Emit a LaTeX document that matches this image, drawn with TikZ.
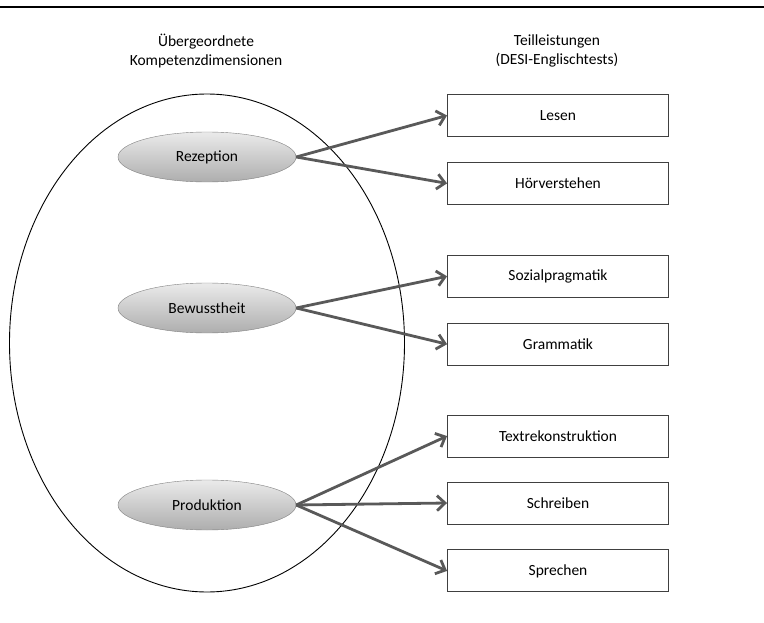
\documentclass[tikz,border=0pt]{standalone}
\usepackage{fontspec}
\setmainfont{Carlito}
\usetikzlibrary{arrows.meta,positioning,shapes.geometric}

\begin{document}
\begin{tikzpicture}[
    x=1pt, y=-1pt,
    font=\fontsize{15.5}{18.5}\selectfont,
    >={Straight Barb[length=8pt,width=15pt]},
    dimension/.style={
		ellipse,
		draw=black!50,
		top color=black!8,
		bottom color=black!32,
		minimum width=178pt,
		minimum height=50pt,
		inner sep=0pt
	},
	task/.style={
		rectangle,
		draw=black!75,
		line width=0.9pt,
		minimum width=221pt,
		minimum height=42pt,
		fill=white
	},
	header/.style={
		align=center
	},
	link/.style={
		->,
		draw=black!65,
		line width=2.8pt
	}
  ]

 \useasboundingbox (0,0) rectangle (764,623);
 \draw [line width=1.4pt] (0,7) -- (764,7);

 % // headers
 \node [header] (lefthead) at (206,51) {Übergeordnete\\Kompetenzdimensionen};
 \node [header] (righthead) at (557,51) {Teilleistungen\\(DESI-Englischtests)};

 % // the big ellipse
 \node [ellipse, draw, line width=0.9pt, minimum width=395pt, minimum height=498pt] (kompetenz) at (207,343) {};

 \node [dimension] (rezeption) at (207,157) {Rezeption};
 \node [dimension] (bewusstheit) at (207,308) {Bewusstheit};
 \node [dimension] (produktion) at (207,505) {Produktion};

 % // the tests
 \node [task] (lesen) at (558,115.5) {Lesen};
 \node [task, below=25pt of lesen] (hoeren) {Hörverstehen};
 \node [task, below=50pt of hoeren] (sozial) {Sozialpragmatik};
 \node [task, below=25pt of sozial] (grammatik) {Grammatik};
 \node [task, below=49pt of grammatik] (textrek) {Textrekonstruktion};
 \node [task, below=24pt of textrek] (schreiben) {Schreiben};
 \node [task, below=25pt of schreiben] (sprechen) {Sprechen};

 \draw [link] (rezeption.east) -- (lesen.west);
 \draw [link] (rezeption.east) -- (hoeren.west);
 \draw [link] (bewusstheit.east) -- (sozial.west);
 \draw [link] (bewusstheit.east) -- (grammatik.west);
 \draw [link] (produktion.east) -- (textrek.west);
 \draw [link] (produktion.east) -- (schreiben.west);
 \draw [link] (produktion.east) -- (sprechen.west);

\end{tikzpicture}
\end{document}
